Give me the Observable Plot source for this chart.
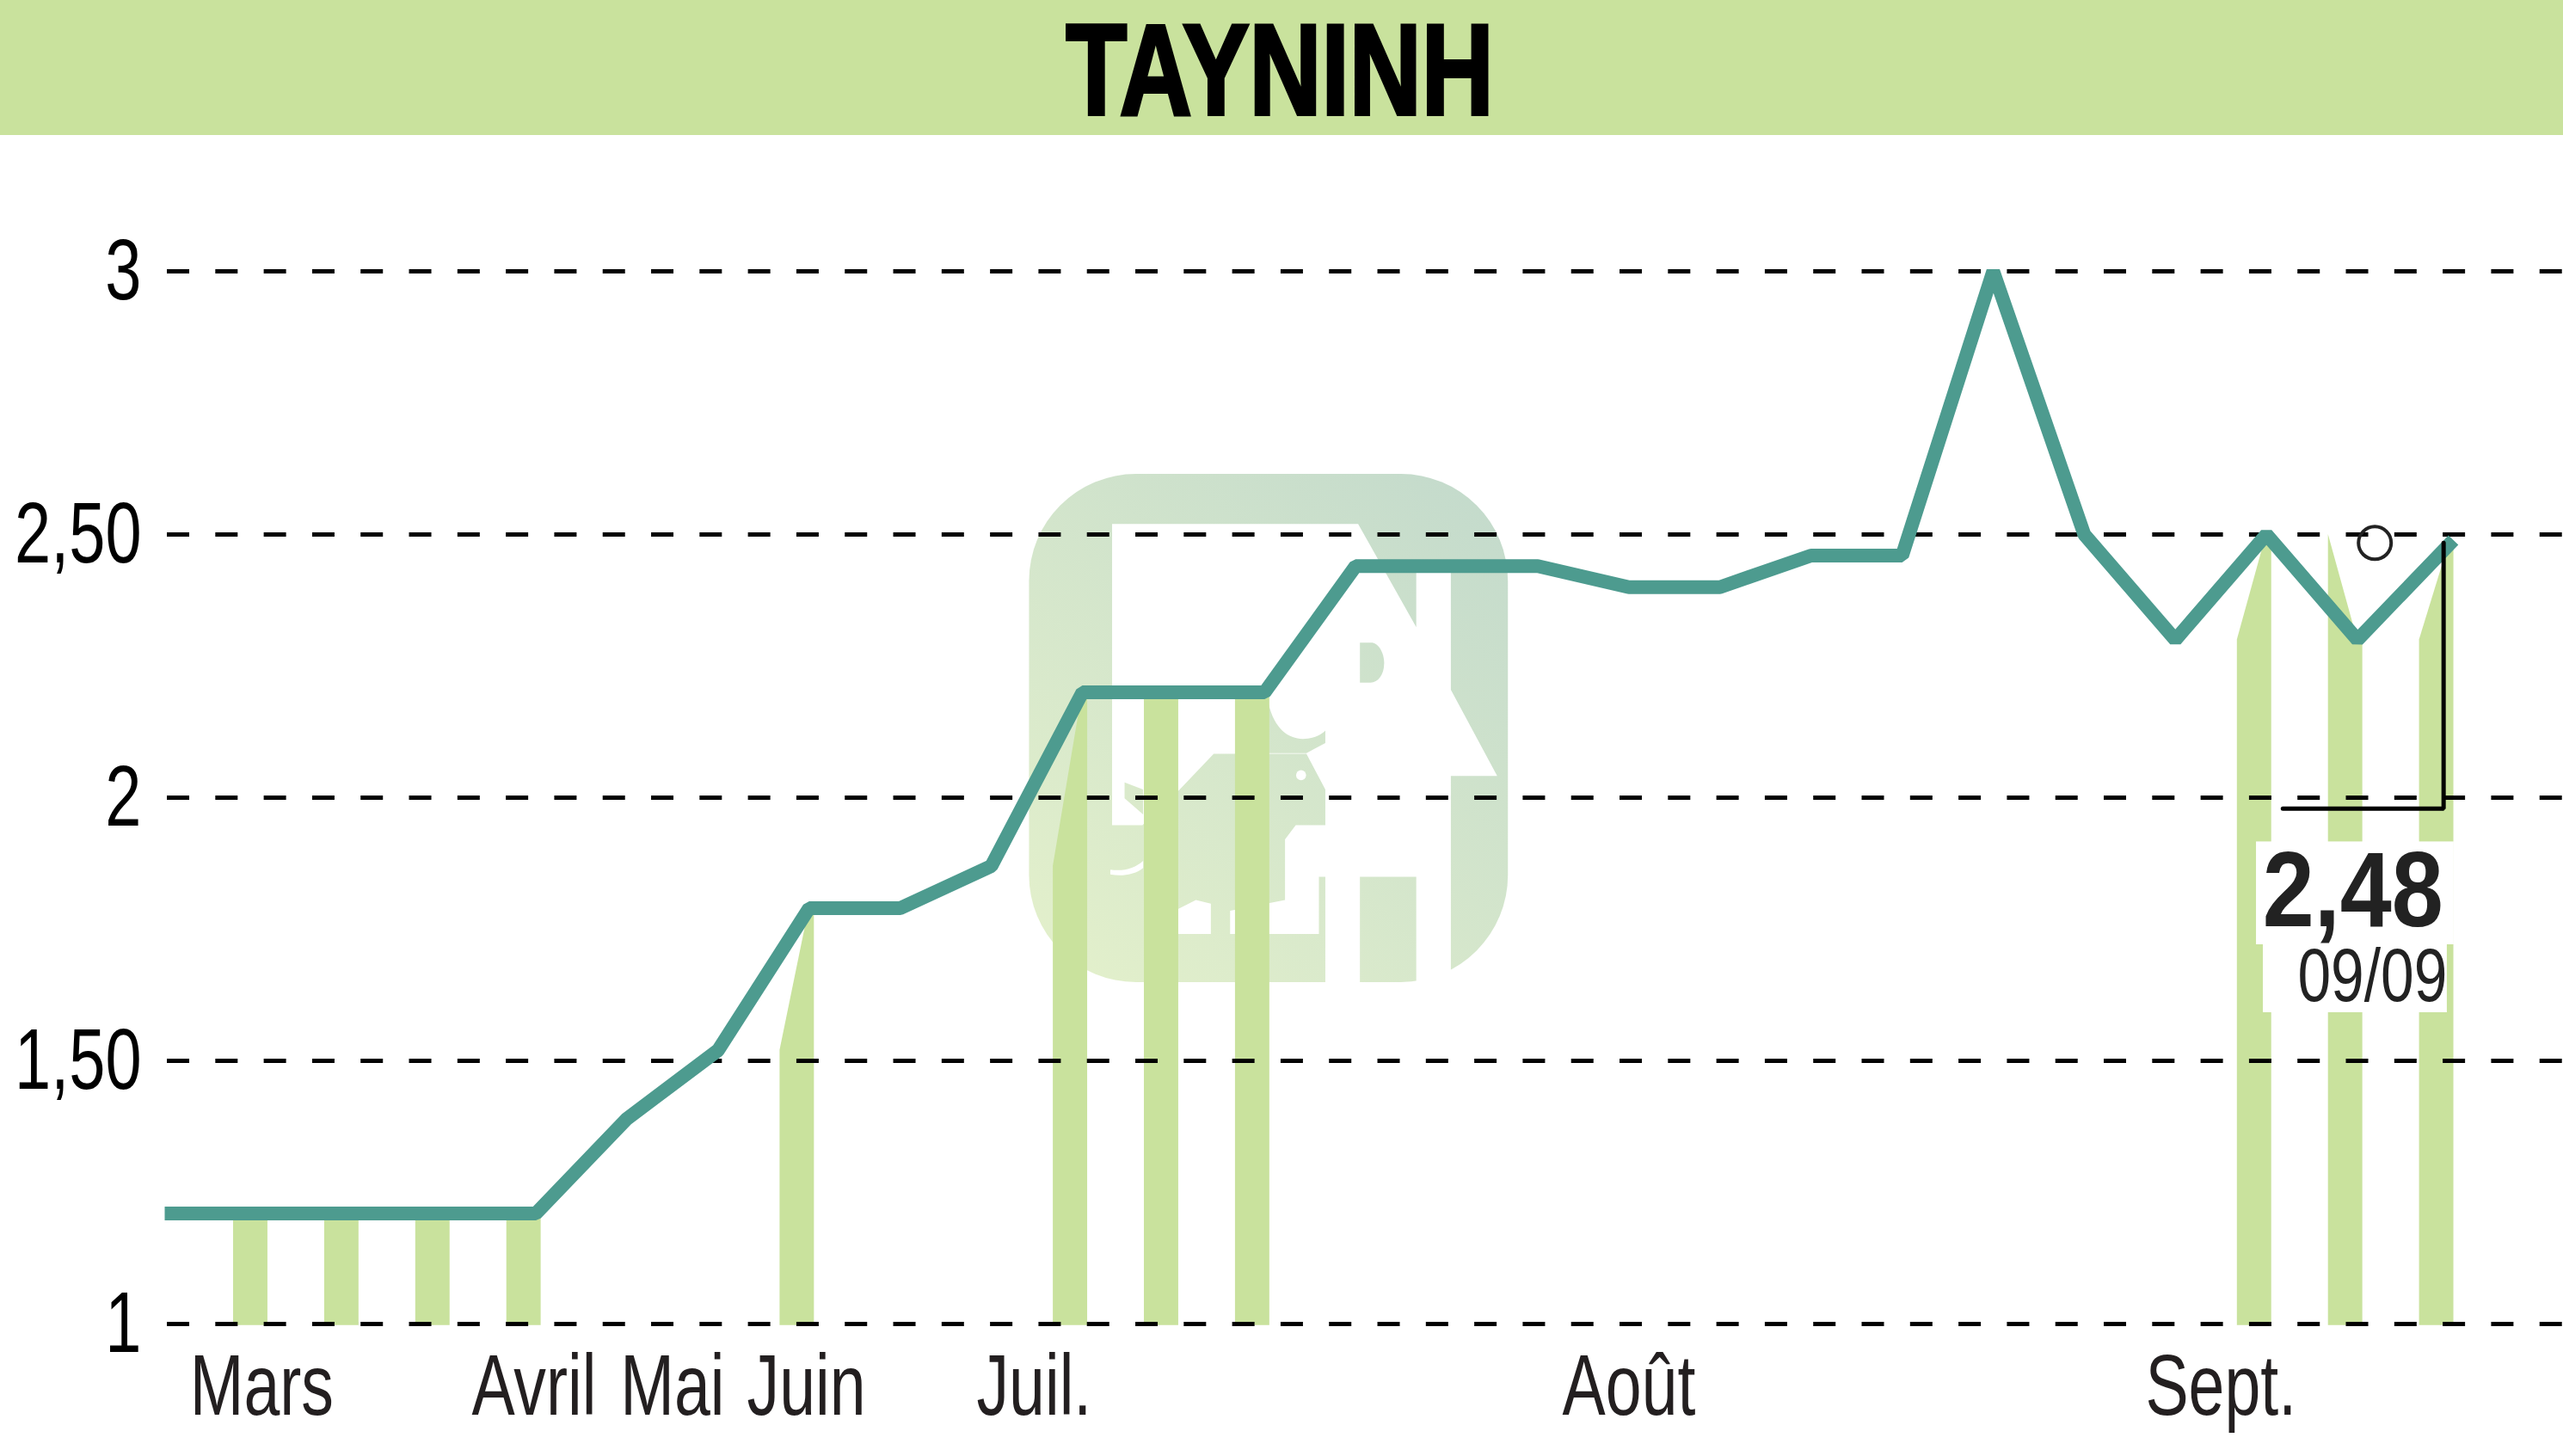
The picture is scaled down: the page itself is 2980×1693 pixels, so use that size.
<!DOCTYPE html>
<html lang="fr">
<head>
<meta charset="utf-8">
<title>TAYNINH</title>
<script src="https://cdn.jsdelivr.net/npm/d3@7"></script>
<script src="https://cdn.jsdelivr.net/npm/@observablehq/plot@0.6"></script>
<style>
  html, body { margin: 0; padding: 0; background: #fff; }
  #header { height: 157px; background: #c9e29d; position: relative; }
  #header span { position: absolute; left: 1488px; top: 81px; transform: translate(-50%, -50%) scaleX(0.775);
    font: bold 150px "Liberation Sans", sans-serif; color: #000; -webkit-text-stroke: 4px #000; line-height: 1; white-space: nowrap; }
  svg { display: block; }
</style>
</head>
<body>
<div id="header"><span>TAYNINH</span></div>
<div id="chart"></div>
<script>
const weekIndex = d3.range(26);
const prices = [1.21,1.21,1.21,1.21,1.21,1.39,1.52,1.79,1.79,1.87,2.2,2.2,2.2,2.44,2.44,2.44,2.4,2.4,2.46,2.46,3,2.5,2.3,2.5,2.3,2.48];
const volumeWeeks = [1,2,3,4,7,10,11,12,23,24,25];
const yTicks = [1,1.5,2,2.5,3];
const yLabels = ["1","1,50","2","2,50","3"];
const monthPositions = [0.99,3.98,5.5,6.97,9.47,16,22.5];
const monthLabels = ["Mars","Avril","Mai","Juin","Juil.","Août","Sept."];
const lastValue = ["2,48"];
const lastDate = ["09/09"];

const font = '"Liberation Sans", sans-serif';
const points = weekIndex.map((x, i) => ({x, y: prices[i]}));
const barShapes = volumeWeeks.flatMap(w => [
  {w, x: w - 0.32, y: prices[w - 1]},
  {w, x: w, y: prices[w]},
  {w, x: w + 0.057, y: prices[w]}
]);

function logo() {
  const g = d3.create("svg:g").attr("transform", "translate(1150,363) scale(0.41459)");
  g.html(`
    <defs><linearGradient id="lg" gradientUnits="userSpaceOnUse" x1="200" y1="1500" x2="1450" y2="100">
      <stop offset="0" stop-color="#e3f0cb"/><stop offset="1" stop-color="#c3dacc"/></linearGradient></defs>
    <rect x="112" y="75" width="1343" height="1425" rx="300" ry="300" fill="url(#lg)"/>
    <path fill="#fff" d="M345 215H1035L1198 505V320H1295V680L1425 922H1295V1510H1198V1205H1040V1510H943V1205H925V1365H676V1300L830 1270V1100L860 1060H943V960L890 860H630L530 965L430 1060H345Z"/>
    <path fill="#fff" d="M530 1365V1295L580 1270L622 1280V1365Z"/>
    <path fill="#fff" d="M340 1185C380 1190 410 1180 432 1160V1180C410 1198 375 1205 340 1198Z"/>
    <path fill="url(#lg)" d="M784 720C800 790 840 818 880 818C910 818 930 808 943 795V830L890 858H784Z"/>
    <path fill="url(#lg)" d="M380 940L432 960V1030L380 985Z"/>
    <path fill="url(#lg)" d="M1040 548H1075C1095 552 1108 580 1108 605C1108 640 1090 660 1070 660H1040Z"/>
    <circle cx="875" cy="920" r="14" fill="#fff"/>
  `);
  return g.node();
}

const chart = Plot.plot({
  width: 2980,
  height: 1536,
  marginLeft: 199,
  marginRight: 133.5,
  marginTop: 158,
  marginBottom: 154,
  style: {background: "transparent", fontFamily: font},
  x: {domain: [0, 25], axis: null},
  y: {domain: [1, 3], axis: null},
  marks: [
    logo,
    Plot.areaY(barShapes, {x: "x", y1: 0.997, y2: "y", z: "w", fill: "#c9e29d"}),
    Plot.rect([0], {x1: 22.89, x2: 25.06, y1: 1.7206, y2: 1.916, fill: "#fff"}),
    Plot.rect([0], {x1: 22.965, x2: 24.985, y1: 1.5915, y2: 1.7206, fill: "#fff"}),
    Plot.ruleY(yTicks, {x1: -0.047, x2: 26.27, stroke: "#000", strokeWidth: 5, strokeDasharray: "26,30.3"}),
    Plot.line(points, {x: "x", y: "y", stroke: "#4d9b8f", strokeWidth: 16, strokeLinecap: "square", strokeLinejoin: "bevel"}),
    Plot.line([{x: 23.18, y: 1.979}, {x: 24.945, y: 1.979}, {x: 24.945, y: 2.484}], {x: "x", y: "y", stroke: "#000", strokeWidth: 5, strokeLinejoin: "miter"}),
    Plot.dot([0], {x: () => 24.19, y: () => 2.484, r: 19, stroke: "#222", strokeWidth: 4, fill: "none"}),
    Plot.axisX({ticks: monthPositions, tickFormat: d => monthLabels[monthPositions.indexOf(d)], tickSize: 0, tickPadding: 34, fontSize: 101, fill: "#231f20", label: null, anchor: "bottom", lineAnchor: "top"}),
    Plot.axisY({ticks: yTicks, tickFormat: d => yLabels[yTicks.indexOf(d)], tickSize: 0, tickPadding: 35, fontSize: 101, fill: "#000", label: null, anchor: "left"}),
    Plot.text(lastValue, {x: () => 24.94, y: () => 1.821, text: d => d, textAnchor: "end", fontSize: 124, fontWeight: "bold", fill: "#222"}),
    Plot.text(lastDate, {x: () => 24.985, y: () => 1.66, text: d => d, textAnchor: "end", fontSize: 88, fill: "#222"})
  ]
});
document.getElementById("chart").append(chart);

const squeeze = new Map([...monthLabels.map(l => [l, 0.745]), ...yLabels.map(l => [l, 0.75]), [lastValue[0], 0.87], [lastDate[0], 0.79]]);
d3.select(chart).selectAll("text").each(function () {
  const f = squeeze.get(this.textContent);
  if (f) {
    this.setAttribute("textLength", this.getComputedTextLength() * f);
    this.setAttribute("lengthAdjust", "spacingAndGlyphs");
  }
});
</script>
</body>
</html>
